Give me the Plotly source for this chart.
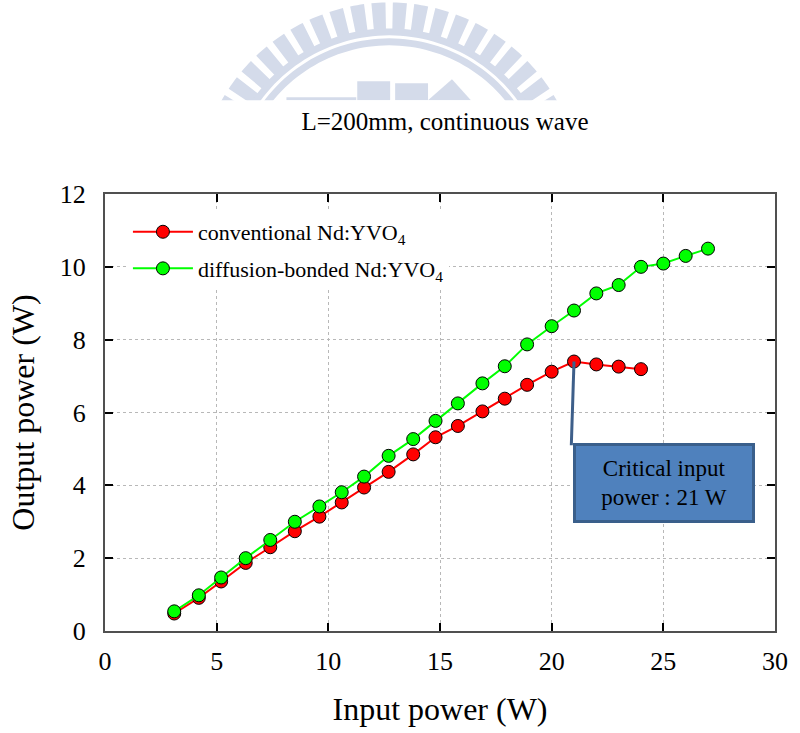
import math
import plotly.graph_objects as go

# ---------------- data ----------------
conv_x = [3.1, 4.2, 5.2, 6.3, 7.4, 8.5, 9.6, 10.6, 11.6, 12.7, 13.8, 14.8, 15.8, 16.9, 17.9, 18.9, 20.0, 21.0, 22.0, 23.0, 24.0]
conv_y = [0.48, 0.91, 1.36, 1.87, 2.30, 2.74, 3.14, 3.53, 3.94, 4.37, 4.85, 5.32, 5.63, 6.03, 6.38, 6.76, 7.12, 7.40, 7.32, 7.26, 7.19]
diff_x = [3.1, 4.2, 5.2, 6.3, 7.4, 8.5, 9.6, 10.6, 11.6, 12.7, 13.8, 14.8, 15.8, 16.9, 17.9, 18.9, 20.0, 21.0, 22.0, 23.0, 24.0, 25.0, 26.0, 27.0]
diff_y = [0.54, 0.98, 1.47, 2.00, 2.50, 3.00, 3.42, 3.81, 4.24, 4.81, 5.27, 5.77, 6.25, 6.80, 7.27, 7.87, 8.37, 8.80, 9.27, 9.50, 10.00, 10.09, 10.30, 10.50]
conv_name = "conventional Nd:YVO<sub>4</sub>"
diff_name = "diffusion-bonded Nd:YVO<sub>4</sub>"
title_text = "L=200mm, continuous wave"
x_title = "Input power (W)"
y_title = "Output power (W)"
critical_x = 21.0
critical_y = 7.40
note_text = "Critical input<br>power : 21 W"

FONT = "Liberation Serif"
W, H = 800, 733
ML, MR, MT, MB = 105, 23, 194, 101
PW, PH = W - ML - MR, H - MT - MB


def px(x):
    return (x - ML) / PW


def py(y):
    return (H - MB - y) / PH


fig = go.Figure()
fig.add_trace(go.Scatter(
    x=conv_x, y=conv_y, name=conv_name, mode="lines+markers", legendgroup="a",
    line=dict(color="#ff0000", width=2),
    marker=dict(color="#ff0000", size=13, line=dict(color="#000000", width=1)),
))
fig.add_trace(go.Scatter(
    x=diff_x, y=diff_y, name=diff_name, mode="lines+markers", legendgroup="b",
    line=dict(color="#00ff00", width=2),
    marker=dict(color="#00ff00", size=13, line=dict(color="#000000", width=1)),
))

# ------------- faint watermark logo (decoration) -------------
LOGO = "#d4dbea"
shapes = []
cx, cy = 390, 195


def poly_path(pts):
    return "M " + " L ".join(f"{px(a):.5f},{py(b):.5f}" for a, b in pts) + " Z"


def annulus(r0, r1, a0, a1, n=80):
    pts = []
    for i in range(n + 1):
        a = math.radians(a0 + (a1 - a0) * i / n)
        pts.append((cx + r1 * math.sin(a), cy - r1 * math.cos(a)))
    for i in range(n, -1, -1):
        a = math.radians(a0 + (a1 - a0) * i / n)
        pts.append((cx + r0 * math.sin(a), cy - r0 * math.cos(a)))
    return pts


ang = -80.0
while ang <= 80:
    shapes.append(dict(type="path", xref="paper", yref="paper", layer="below",
                       path=poly_path(annulus(165, 193, ang - 2.1, ang + 2.1, 4)),
                       fillcolor=LOGO, line=dict(width=0)))
    ang += 6.4
shapes.append(dict(type="path", xref="paper", yref="paper", layer="below",
                   path=poly_path(annulus(160, 167, -80, 80)), fillcolor=LOGO, line=dict(width=0)))
shapes.append(dict(type="path", xref="paper", yref="paper", layer="below",
                   path=poly_path(annulus(150, 157, -80, 80)), fillcolor=LOGO, line=dict(width=0)))
for pts in [
    [(287, 97), (357, 97), (357, 100), (287, 100)],
    [(358, 81), (391, 81), (391, 100), (358, 100)],
    [(396, 83), (429, 83), (429, 100), (396, 100)],
    [(429, 100), (453, 79), (472, 100)],
]:
    shapes.append(dict(type="path", xref="paper", yref="paper", layer="below",
                       path=poly_path(pts), fillcolor=LOGO, line=dict(width=0)))
# white cover under the logo
shapes.append(dict(type="rect", xref="paper", yref="paper", layer="below",
                   x0=px(150), x1=px(650), y0=py(190), y1=py(100),
                   fillcolor="white", line=dict(width=0)))

# leader line from critical point to the note box
shapes.append(dict(type="line", xref="x", yref="y", layer="above",
                   x0=critical_x, y0=critical_y, x1=20.88, y1=5.1,
                   line=dict(color="#3e5f8a", width=3)))

fig.update_layout(
    width=W, height=H,
    margin=dict(l=ML, r=MR, t=MT, b=MB),
    paper_bgcolor="white", plot_bgcolor="white",
    font=dict(family=FONT, color="black"),
    title=dict(text=title_text, x=445 / W, xanchor="center", y=1 - 121 / H, yanchor="middle",
               font=dict(family=FONT, size=25, color="black")),
    showlegend=True,
    legend=dict(x=px(128), y=py(211), xanchor="left", yanchor="top",
                bgcolor="white", borderwidth=0, font=dict(family=FONT, size=22),
                tracegroupgap=5, itemwidth=60),
    shapes=shapes,
    annotations=[dict(
        x=(575 + 757) / 2, y=(445 + 523) / 2, xref="x", yref="y",
        text=note_text, showarrow=False,
        font=dict(family=FONT, size=23, color="black"),
        bgcolor="#4f81bd", bordercolor="#3a5f8b", borderwidth=3, borderpad=2,
        width=172, height=70, align="center",
    )],
)
# convert annotation pixel position into data coords
ann = fig.layout.annotations[0]
ann.x = (ann.x - ML) / PW * 30
ann.y = (H - MB - ann.y) / PH * 12

axis_common = dict(
    showline=True, linecolor="#505050", linewidth=2, mirror="ticks",
    ticks="inside", ticklen=8, tickwidth=2, tickcolor="black",
    showgrid=True, gridcolor="#b8b8b8", griddash="dot", gridwidth=1,
    zeroline=False, tickfont=dict(family=FONT, size=26, color="black"),
)
fig.update_xaxes(range=[0, 30], dtick=5, tick0=0, ticklabelstandoff=6,
                 title=dict(text=x_title, font=dict(family=FONT, size=32), standoff=22),
                 **axis_common)
fig.update_yaxes(range=[0, 12], dtick=2, tick0=0, ticklabelstandoff=12,
                 title=dict(text=y_title, font=dict(family=FONT, size=32), standoff=16),
                 **axis_common)

fig.write_html("out.html")
